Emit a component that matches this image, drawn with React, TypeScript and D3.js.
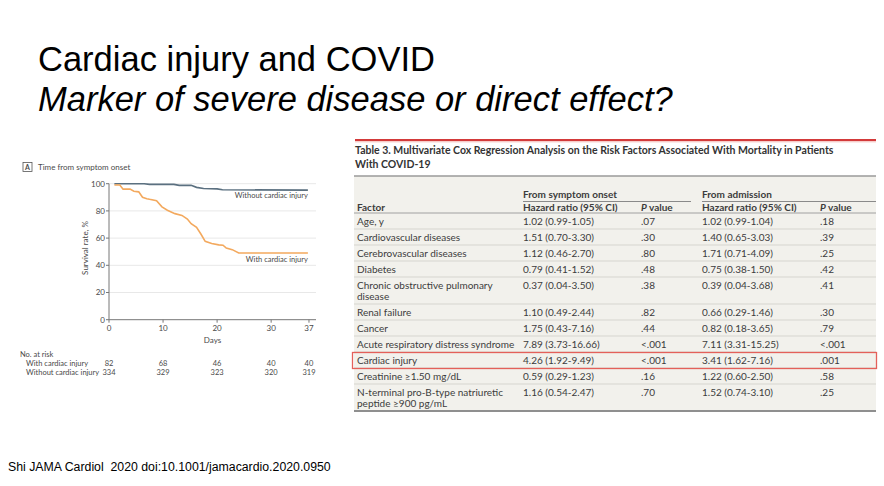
import React from "react";
import * as d3 from "d3";

// ---------- Slide text ----------
const slideTitle = "Cardiac injury and COVID";
const slideSubtitle = "Marker of severe disease or direct effect?";
const footerText = "Shi JAMA Cardiol  2020 doi:10.1001/jamacardio.2020.0950";

// ---------- Kaplan-Meier data ----------
const withInjuryDays = [1, 2, 2.6, 3.9, 4.6, 5.5, 6.2, 7, 7.5, 8.8, 9.8, 10.8, 12.2, 13.5, 14.5, 15.2, 16.2, 17, 17.8, 19, 20.3, 21.1, 21.7, 22.8, 24, 36.8];
const withInjurySurv = [99, 99, 96, 96, 94.5, 94, 90, 89, 88.5, 87.5, 83, 80.5, 78, 76.7, 74, 70.6, 68, 63, 57.6, 56, 55, 54.8, 52.7, 51.5, 49, 49];
const withoutInjuryDays = [1, 6.5, 7.5, 12, 13, 15.2, 16.2, 17.5, 20, 21, 36.8];
const withoutInjurySurv = [100, 100, 99.5, 99.5, 98.8, 98.8, 97.3, 96.5, 96.2, 95.5, 95.3];
const xTicks = [0, 10, 20, 30, 37];
const yTicks = [0, 20, 40, 60, 80, 100];
const atRiskWith = [82, 68, 46, 40, 40];
const atRiskWithout = [334, 329, 323, 320, 319];

// ---------- Table data ----------
const factorLabels = [
  ["Age, y"],
  ["Cardiovascular diseases"],
  ["Cerebrovascular diseases"],
  ["Diabetes"],
  ["Chronic obstructive pulmonary", "disease"],
  ["Renal failure"],
  ["Cancer"],
  ["Acute respiratory distress syndrome"],
  ["Cardiac injury"],
  ["Creatinine \u22651.50 mg/dL"],
  ["N-terminal pro-B-type natriuretic", "peptide \u2265900 pg/mL"],
];
const hrOnset = ["1.02 (0.99-1.05)", "1.51 (0.70-3.30)", "1.12 (0.46-2.70)", "0.79 (0.41-1.52)", "0.37 (0.04-3.50)", "1.10 (0.49-2.44)", "1.75 (0.43-7.16)", "7.89 (3.73-16.66)", "4.26 (1.92-9.49)", "0.59 (0.29-1.23)", "1.16 (0.54-2.47)"];
const pOnset = [".07", ".30", ".80", ".48", ".38", ".82", ".44", "<.001", "<.001", ".16", ".70"];
const hrAdmission = ["1.02 (0.99-1.04)", "1.40 (0.65-3.03)", "1.71 (0.71-4.09)", "0.75 (0.38-1.50)", "0.39 (0.04-3.68)", "0.66 (0.29-1.46)", "0.82 (0.18-3.65)", "7.11 (3.31-15.25)", "3.41 (1.62-7.16)", "1.22 (0.60-2.50)", "1.52 (0.74-3.10)"];
const pAdmission = [".18", ".39", ".25", ".42", ".41", ".30", ".79", "<.001", ".001", ".58", ".25"];
const highlightFactor = "Cardiac injury";
const tableTitle = [
  "Table 3. Multivariate Cox Regression Analysis on the Risk Factors Associated With Mortality in Patients",
  "With COVID-19",
];

const SANS = "'Liberation Sans', Arial, sans-serif";
const JF = "Lato, 'Open Sans', sans-serif";

function KMChart() {
  const x = d3.scaleLinear().domain([0, 38.3]).range([109, 316]);
  const y = d3.scaleLinear().domain([0, 100]).range([319.7, 183.7]);
  const line = d3
    .line<[number, number]>()
    .x((d) => x(d[0]))
    .y((d) => y(d[1]));
  const withPts = withInjuryDays.map((d, i) => [d, withInjurySurv[i]] as [number, number]);
  const withoutPts = withoutInjuryDays.map((d, i) => [d, withoutInjurySurv[i]] as [number, number]);
  const [x0, x1] = x.range();
  const c = "#4a4a4a";
  return (
    <g fontFamily={JF} fill={c}>
      <rect x={23} y={162.5} width={9} height={9} fill="none" stroke="#555" strokeWidth={0.8} />
      <text x={27.5} y={170} fontSize={7} fontWeight={700} textAnchor="middle">A</text>
      <text x={38} y={170} fontSize={8}>Time from symptom onset</text>

      {yTicks.filter((t) => t > 0).map((t) => (
        <line key={"g" + t} x1={x0} x2={x1} y1={y(t)} y2={y(t)} stroke="#e8e8e8" strokeWidth={1} />
      ))}
      <line x1={x0} x2={x0} y1={y(100)} y2={y(0)} stroke="#777" strokeWidth={1} />
      <line x1={x0} x2={x1} y1={y(0)} y2={y(0)} stroke="#777" strokeWidth={1} />
      {yTicks.map((t) => (
        <g key={"y" + t}>
          <line x1={x0 - 3} x2={x0} y1={y(t)} y2={y(t)} stroke="#777" />
          <text x={x0 - 4} y={y(t) + 2.8} fontSize={8} textAnchor="end">{t}</text>
        </g>
      ))}
      {xTicks.map((t) => (
        <g key={"x" + t}>
          <line x1={x(t)} x2={x(t)} y1={y(0)} y2={y(0) + 3} stroke="#777" />
          <text x={x(t)} y={y(0) + 11} fontSize={8} textAnchor="middle">{t}</text>
        </g>
      ))}
      <text transform={`translate(88,248) rotate(-90)`} fontSize={8} textAnchor="middle">Survival rate, %</text>
      <text x={(x0 + x1) / 2} y={343} fontSize={8} textAnchor="middle">Days</text>

      <path d={line(withoutPts) || ""} fill="none" stroke="#5b7080" strokeWidth={1.6} />
      <path d={line(withPts) || ""} fill="none" stroke="#f3a95e" strokeWidth={1.6} />
      <text x={x(36.8)} y={198} fontSize={7.5} textAnchor="end">Without cardiac injury</text>
      <text x={x(36.8)} y={261.5} fontSize={7.5} textAnchor="end">With cardiac injury</text>

      <text x={20} y={357} fontSize={7.5}>No. at risk</text>
      <text x={26} y={366} fontSize={7.5}>With cardiac injury</text>
      <text x={26} y={375} fontSize={7.5}>Without cardiac injury</text>
      {xTicks.map((t, i) => (
        <g key={"r" + t}>
          <text x={x(t)} y={366} fontSize={7.5} textAnchor="middle">{atRiskWith[i]}</text>
          <text x={x(t)} y={375} fontSize={7.5} textAnchor="middle">{atRiskWithout[i]}</text>
        </g>
      ))}
    </g>
  );
}

function Table() {
  const left = 354;
  const right = 876;
  const colX = [357, 523, 641, 702, 820];
  const headerBottom = 213;
  const lineH = 11;
  const rows: { top: number; h: number }[] = [];
  let cur = headerBottom;
  factorLabels.forEach((lab) => {
    const h = 16 + (lab.length - 1) * lineH;
    rows.push({ top: cur, h });
    cur += h;
  });
  const bottom = cur;
  const fs = 10;
  const tc = "#3c3c3c";
  return (
    <g fontFamily={JF} fontSize={fs} fill={tc}>
      <line x1={left + 1} x2={right} y1={140} y2={140} stroke="#d33a3a" strokeWidth={2.2} />
      <line x1={left + 1} x2={right} y1={141.8} y2={141.8} stroke="#f2b8b4" strokeWidth={1} />
      {tableTitle.map((t, i) => (
        <text key={i} x={355} y={153.5 + i * 14} fontWeight={700} fontSize={10.5} fill="#333">{t}</text>
      ))}
      <rect x={left} y={176} width={right - left} height={bottom - 176} fill="#f2f1ec" />
      <line x1={left} x2={right} y1={176} y2={176} stroke="#9a9a9a" strokeWidth={1.6} />
      <text x={colX[1]} y={198} fontWeight={700}>From symptom onset</text>
      <text x={colX[3]} y={198} fontWeight={700}>From admission</text>
      <line x1={colX[1]} x2={691} y1={201.5} y2={201.5} stroke="#8a8a8a" strokeWidth={1} />
      <line x1={colX[3]} x2={right} y1={201.5} y2={201.5} stroke="#8a8a8a" strokeWidth={1} />
      <text x={colX[0]} y={210.5} fontWeight={700}>Factor</text>
      <text x={colX[1]} y={210.5} fontWeight={700}>Hazard ratio (95% CI)</text>
      <text x={colX[2]} y={210.5} fontWeight={700}><tspan fontStyle="italic">P</tspan> value</text>
      <text x={colX[3]} y={210.5} fontWeight={700}>Hazard ratio (95% CI)</text>
      <text x={colX[4]} y={210.5} fontWeight={700}><tspan fontStyle="italic">P</tspan> value</text>
      <line x1={left} x2={right} y1={headerBottom} y2={headerBottom} stroke="#a0a0a0" strokeWidth={1} />
      {factorLabels.map((lab, i) => {
        const r = rows[i];
        const base = r.top + 11.5;
        return (
          <g key={i}>
            {i > 0 && <line x1={left} x2={right} y1={r.top} y2={r.top} stroke="#d6d5cf" strokeWidth={1} />}
            {lab.map((l, j) => (
              <text key={j} x={colX[0]} y={base + j * lineH}>{l}</text>
            ))}
            <text x={colX[1]} y={base}>{hrOnset[i]}</text>
            <text x={colX[2]} y={base}>{pOnset[i]}</text>
            <text x={colX[3]} y={base}>{hrAdmission[i]}</text>
            <text x={colX[4]} y={base}>{pAdmission[i]}</text>
          </g>
        );
      })}
      <line x1={left} x2={right} y1={bottom} y2={bottom} stroke="#8f8f8f" strokeWidth={1.8} />
      {factorLabels.map((lab, i) =>
        lab[0] === highlightFactor ? (
          <rect key={"hl" + i} x={352.5} y={rows[i].top + 0.5} width={524} height={rows[i].h} fill="none" stroke="#e4605a" strokeWidth={1.3} />
        ) : null
      )}
    </g>
  );
}

export default function App() {
  return (
    <div style={{ position: "absolute", left: 0, top: 0 }}>
      <svg width={884} height={486} style={{ display: "block", background: "#fff" }}>
        <rect width={884} height={486} fill="#fff" />
        <text x={38} y={71} fontFamily={SANS} fontSize={34.5} fill="#000">{slideTitle}</text>
        <text x={38} y={111} fontFamily={SANS} fontSize={34.5} fontStyle="italic" fill="#000">{slideSubtitle}</text>
        <KMChart />
        <Table />
        <text x={8} y={471} fontFamily={SANS} fontSize={12.3} fill="#000" style={{ whiteSpace: "pre" }}>{footerText}</text>
      </svg>
    </div>
  );
}
